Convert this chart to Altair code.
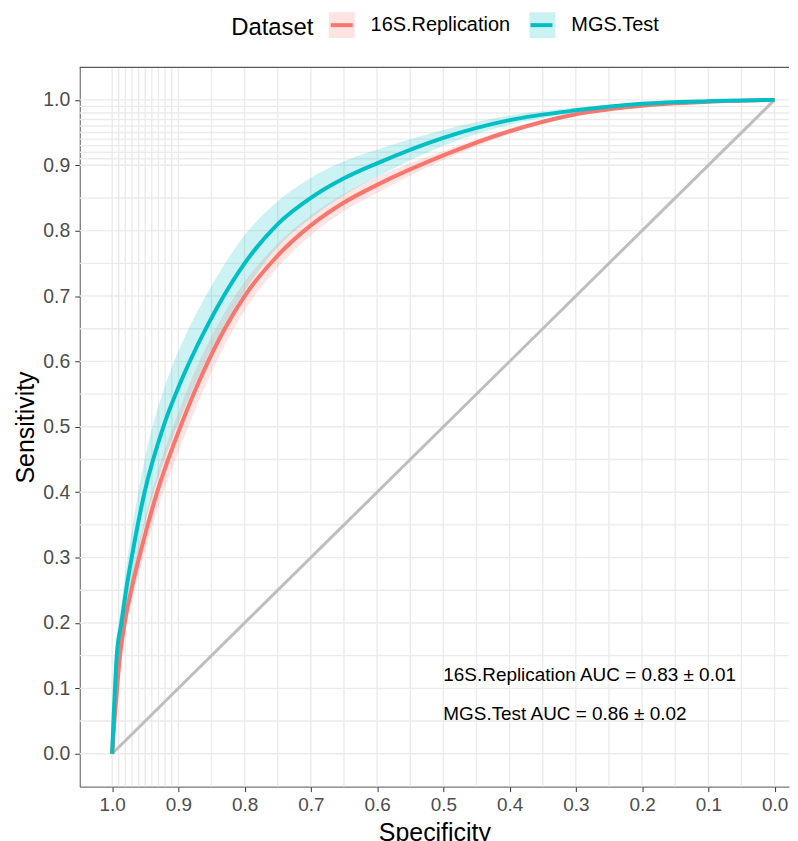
import altair as alt
import pandas as pd

datasets = ["16S.Replication", "MGS.Test"]
colors = ["#F8766D", "#00BFC4"]

# 16S.Replication curve (specificity, sensitivity, half-width of ribbon)
spec_16s = [1.0, 0.988, 0.981, 0.970, 0.958, 0.932, 0.895, 0.880, 0.855, 0.830, 0.800,
            0.750, 0.700, 0.650, 0.600, 0.500, 0.400, 0.300, 0.200, 0.100, 0.0]
sens_16s = [0.0, 0.150, 0.200, 0.255, 0.305, 0.400, 0.505, 0.543, 0.600, 0.650, 0.700,
            0.762, 0.808, 0.843, 0.870, 0.915, 0.952, 0.978, 0.991, 0.997, 1.0]
ci_16s = [0.0, 0.012, 0.016, 0.020, 0.024, 0.028, 0.030, 0.030, 0.028, 0.025, 0.022,
          0.018, 0.015, 0.013, 0.012, 0.007, 0.004, 0.002, 0.001, 0.0, 0.0]

# MGS.Test curve
spec_mgs = [1.0, 0.993, 0.986, 0.977, 0.971, 0.951, 0.921, 0.898, 0.880, 0.855, 0.835,
            0.800, 0.750, 0.700, 0.650, 0.600, 0.500, 0.400, 0.300, 0.200, 0.100, 0.0]
sens_mgs = [0.0, 0.150, 0.200, 0.262, 0.297, 0.400, 0.505, 0.565, 0.606, 0.657, 0.694,
            0.750, 0.810, 0.850, 0.880, 0.903, 0.942, 0.969, 0.984, 0.994, 0.998, 1.0]
ci_mgs = [0.0, 0.020, 0.028, 0.036, 0.040, 0.050, 0.055, 0.055, 0.053, 0.050, 0.047,
          0.043, 0.035, 0.031, 0.026, 0.021, 0.012, 0.007, 0.004, 0.002, 0.001, 0.0]

# chance diagonal
diag_spec = [1.0, 0.0]
diag_sens = [0.0, 1.0]

# annotations
ann_x = [0.5, 0.5]
ann_y = [0.12, 0.06]
ann_text = ["16S.Replication AUC = 0.83 \u00b1 0.01", "MGS.Test AUC = 0.86 \u00b1 0.02"]

# axis ticks and grid lines
tick_vals = [0.0, 0.1, 0.2, 0.3, 0.4, 0.5, 0.6, 0.7, 0.8, 0.9, 1.0]
grid_vals = [0.0, 0.05, 0.1, 0.15, 0.2, 0.25, 0.3, 0.35, 0.4, 0.45, 0.5, 0.55, 0.6,
             0.65, 0.7, 0.75, 0.8, 0.85, 0.9, 0.91, 0.92, 0.93, 0.94, 0.95, 0.96,
             0.97, 0.98, 0.99, 1.0]

rows = []
for name, sp, se, ci in [(datasets[0], spec_16s, sens_16s, ci_16s),
                         (datasets[1], spec_mgs, sens_mgs, ci_mgs)]:
    for a, b, c in zip(sp, se, ci):
        rows.append({"Dataset": name, "spec": a, "sens": b,
                     "lo": max(0.0, b - c), "hi": min(1.0, b + c)})
df = pd.DataFrame(rows)
df_diag = pd.DataFrame({"spec": diag_spec, "sens": diag_sens})
df_ann = pd.DataFrame({"spec": ann_x, "sens": ann_y, "label": ann_text})
df_grid = pd.DataFrame({"g": grid_vals})

W, H = 712, 722
FONT = "Liberation Sans"

xscale = alt.Scale(domain=[-0.0218, 1.0489], reverse=True, nice=False, zero=False)
yscale = alt.Scale(domain=[-0.0503, 1.0497], nice=False, zero=False)

xaxis = alt.Axis(values=tick_vals, format=".1f", title="Specificity", grid=False,
                 labelFontSize=19, labelColor="#4D4D4D", labelPadding=4,
                 tickSize=5, tickColor="#333333", domainColor="#555555",
                 titleFontSize=25, titleFontWeight="normal", titleColor="black",
                 titlePadding=6, labelFlush=False)
yaxis = alt.Axis(values=tick_vals, format=".1f", title="Sensitivity", grid=False,
                 labelFontSize=19.5, labelColor="#4D4D4D", labelPadding=5,
                 tickSize=5, tickColor="#333333", domainColor="#555555",
                 titleFontSize=25, titleFontWeight="normal", titleColor="black",
                 titlePadding=4, labelFlush=False)

legend_common = dict(orient="none", legendX=152, legendY=-57.4, direction="horizontal",
                     titleOrient="left", title="Dataset", titleFontSize=24,
                     titleFontWeight="normal", titleColor="black", titlePadding=13,
                     labelFontSize=20, labelColor="black", labelOffset=14,
                     columnPadding=10.5, symbolSize=676, symbolStrokeWidth=4,
                     padding=0, labelFont=FONT, titleFont=FONT)

grid_x = alt.Chart(df_grid).mark_rule(color="#EBEBEB", strokeWidth=1.4).encode(
    x=alt.X("g:Q", scale=xscale, axis=xaxis))
grid_y = alt.Chart(df_grid).mark_rule(color="#EBEBEB", strokeWidth=1.4).encode(
    y=alt.Y("g:Q", scale=yscale, axis=yaxis))

diag = alt.Chart(df_diag).mark_line(color="#BEBEBE", strokeWidth=3).encode(
    x=alt.X("spec:Q", scale=xscale, axis=xaxis),
    y=alt.Y("sens:Q", scale=yscale, axis=yaxis))

ribbon = alt.Chart(df).mark_area(opacity=0.2, interpolate="monotone").encode(
    x=alt.X("spec:Q", scale=xscale, axis=xaxis),
    y=alt.Y("lo:Q", scale=yscale, axis=yaxis),
    y2="hi:Q",
    fill=alt.Fill("Dataset:N", scale=alt.Scale(domain=datasets, range=colors),
                  legend=alt.Legend(symbolType="square", symbolStrokeColor="transparent",
                                    **legend_common)))

lines = alt.Chart(df).mark_line(strokeWidth=4, interpolate="monotone").encode(
    x=alt.X("spec:Q", scale=xscale, axis=xaxis),
    y=alt.Y("sens:Q", scale=yscale, axis=yaxis),
    stroke=alt.Stroke("Dataset:N", scale=alt.Scale(range=colors),
                      legend=alt.Legend(symbolType="M-0.85,0H0.85", labelOpacity=0,
                                        titleOpacity=0, **legend_common)))

texts = alt.Chart(df_ann).mark_text(align="left", baseline="middle", fontSize=19,
                                    color="black", font=FONT).encode(
    x=alt.X("spec:Q", scale=xscale, axis=xaxis),
    y=alt.Y("sens:Q", scale=yscale, axis=yaxis),
    text="label:N")

top_border = alt.Chart(df_diag).mark_rule(color="#555555", strokeWidth=1).encode(
    x=alt.value(0), x2=alt.value(W), y=alt.value(0))

chart = alt.layer(grid_x, grid_y, diag, ribbon, lines, texts, top_border).resolve_scale(
    fill="independent", stroke="independent"
).properties(
    width=W, height=H,
    padding={"left": 5, "top": 0, "right": 0, "bottom": 0}
).configure(font=FONT).configure_view(stroke=None)

chart.save("out.html", embed_options={"renderer": "svg", "actions": False})
